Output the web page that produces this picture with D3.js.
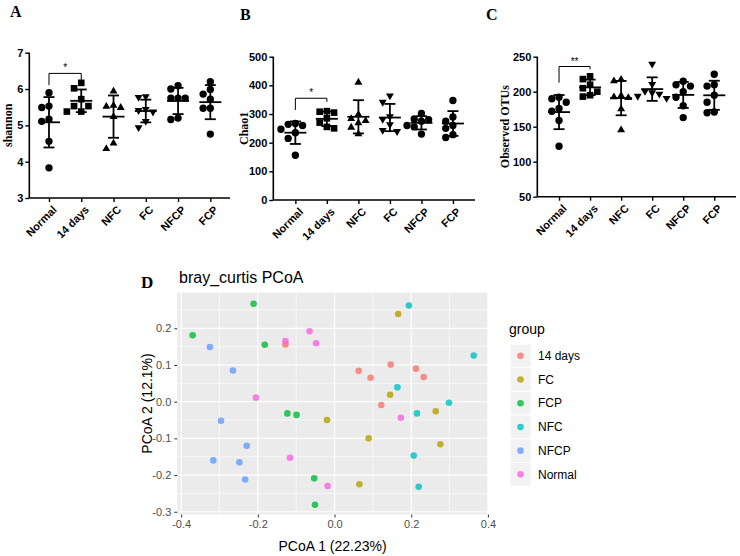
<!DOCTYPE html>
<html><head><meta charset="utf-8">
<script src="https://cdn.jsdelivr.net/npm/d3@7"></script>
<style>body{margin:0;background:#fff}svg{display:block}</style>
</head><body><svg id="c" width="740" height="556"></svg>
<script>
// ---------- data ----------
const groups = ["Normal", "14 days", "NFC", "FC", "NFCP", "FCP"];
const shannon = [
  [5.90, 5.53, 5.49, 5.11, 5.17, 4.56, 3.83],
  [6.17, 6.02, 5.72, 5.53, 5.53, 5.38, 5.38],
  [5.95, 5.50, 5.56, 5.53, 5.25, 4.52, 4.37],
  [5.78, 5.76, 5.43, 5.40, 5.36, 5.10, 4.93],
  [6.00, 6.09, 5.75, 5.75, 5.75, 5.16, 5.20],
  [6.20, 5.99, 5.86, 5.72, 5.47, 5.47, 4.76]
];
const chao1 = [
  [260, 267, 264, 247, 235, 215, 156],
  [310, 308, 305, 285, 270, 255, 250],
  [412, 300, 285, 278, 270, 255, 232],
  [362, 340, 290, 280, 262, 242, 238],
  [302, 283, 280, 275, 260, 255, 230],
  [347, 290, 275, 260, 250, 228, 218]
];
const otus = [
  [192, 190, 185, 176, 172, 159, 122],
  [222, 218, 210, 205, 200, 195, 193],
  [218, 216, 195, 193, 192, 176, 146],
  [239, 210, 200, 198, 196, 193, 190],
  [215, 210, 208, 200, 192, 180, 163],
  [225, 210, 208, 195, 185, 171, 170]
];
const ticksA = [3, 4, 5, 6, 7];
const ticksB = [0, 100, 200, 300, 400, 500];
const ticksC = [50, 100, 150, 200, 250];

const pcoaGroups = ["14 days", "FC", "FCP", "NFC", "NFCP", "Normal"];
const pcoaColors = ["#F8766D", "#B79F00", "#00BA38", "#00BFC4", "#619CFF", "#F564E3"];
const pcGroup = [
  "14 days","14 days","14 days","14 days","14 days","14 days","14 days",
  "FC","FC","FC","FC","FC","FC","FC",
  "FCP","FCP","FCP","FCP","FCP","FCP","FCP",
  "NFC","NFC","NFC","NFC","NFC","NFC","NFC",
  "NFCP","NFCP","NFCP","NFCP","NFCP","NFCP","NFCP",
  "Normal","Normal","Normal","Normal","Normal","Normal","Normal"
];
const pc1 = [
  -0.128, 0.063, 0.094, 0.1465, 0.2125, 0.2325, 0.122,
  0.166, 0.145, 0.264, -0.0196, 0.089, 0.276, 0.065,
  -0.370, -0.211, -0.182, -0.123, -0.099, -0.053, -0.051,
  0.194, 0.363, 0.164, 0.2985, 0.215, 0.2065, 0.2195,
  -0.325, -0.265, -0.296, -0.229, -0.316, -0.248, -0.233,
  -0.128, -0.065, -0.048, -0.205, -0.116, -0.018, 0.173
];
const pc2 = [
  0.156, 0.084, 0.065, 0.101, 0.090, 0.067, -0.009,
  0.239, 0.019, -0.026, -0.050, -0.100, -0.116, -0.225,
  0.181, 0.267, 0.155, -0.032, -0.036, -0.209, -0.281,
  0.262, 0.126, 0.039, -0.003, -0.032, -0.147, -0.232,
  0.149, 0.085, -0.052, -0.120, -0.160, -0.165, -0.212,
  0.165, 0.192, 0.159, 0.011, -0.153, -0.230, -0.044
];
const pcXTicks = [-0.4, -0.2, 0.0, 0.2, 0.4];
const pcYTicks = [-0.3, -0.2, -0.1, 0.0, 0.1, 0.2];

// ---------- drawing ----------
const svg = d3.select("#c");
svg.append("rect").attr("width", 740).attr("height", 556).attr("fill", "#fff");
const SANS = "'Liberation Sans', Arial, sans-serif";
const SERIF = "'Liberation Serif', 'Times New Roman', serif";
const markerShapes = ["circle", "square", "up", "down", "circle", "circle"];

function markerPath(shape, s) {
  if (shape === "circle") return d3.symbol(d3.symbolCircle, s * s * 0.82)();
  if (shape === "square") return d3.symbol(d3.symbolSquare, s * s * 0.85)();
  const h = s * 0.95, w = s * 0.55;
  if (shape === "up") return `M0,${-h*0.6}L${w},${h*0.4}L${-w},${h*0.4}Z`;
  return `M0,${h*0.6}L${w},${-h*0.4}L${-w},${-h*0.4}Z`;
}

function beeswarm(vals, y, s) {
  const order = vals.map((v, i) => i).sort((a, b) => vals[b] - vals[a]);
  const placed = [];
  const off = new Array(vals.length).fill(0);
  const cands = [0, -s, s, -2 * s, 2 * s, -3 * s, 3 * s];
  order.forEach(i => {
    const py = y(vals[i]);
    for (const c of cands) {
      const ok = placed.every(p => Math.hypot(p.x - c, p.y - py) >= s * 0.98);
      if (ok) { off[i] = c; placed.push({x: c, y: py}); break; }
    }
  });
  return off;
}

function dotPanel(cfg) {
  const g = svg.append("g");
  const x = d3.scalePoint().domain(groups).range(cfg.xRange).padding(cfg.pad);
  const y = d3.scaleLinear().domain(cfg.yDomain).range(cfg.yRange);
  const x0 = cfg.xRange[0], y0 = cfg.yRange[0];

  const ya = g.append("g").attr("transform", `translate(${x0},0)`)
    .call(d3.axisLeft(y).tickValues(cfg.ticks).tickSize(4).tickPadding(2).tickFormat(d3.format("d")));
  const xa = g.append("g").attr("transform", `translate(0,${y0})`)
    .call(d3.axisBottom(x).tickSize(4).tickFormat(""));
  [ya, xa].forEach(a => {
    a.select(".domain").attr("stroke", "#000").attr("stroke-width", 1.6);
    a.selectAll(".tick line").attr("stroke", "#000").attr("stroke-width", 1.4);
    a.selectAll("text").attr("font-family", SANS).attr("font-weight", "bold")
      .attr("font-size", 11).attr("fill", "#000");
  });
  xa.select(".domain").attr("d", `M${x0},0H${cfg.xRange[1]}`);
  ya.select(".domain").attr("d", `M0,${cfg.yRange[1]}V${y0}`);
  g.selectAll(".xl").data(groups).enter().append("text")
    .attr("transform", d => `translate(${x(d) + 3},${y0 + 7}) rotate(-45)`)
    .attr("text-anchor", "end").attr("dy", "0.7em")
    .attr("font-family", SANS).attr("font-weight", "bold").attr("font-size", 11)
    .text(d => d);

  g.append("text").attr("transform", `translate(${cfg.ylabelX},${(cfg.yRange[0] + cfg.yRange[1]) / 2}) rotate(-90)`)
    .attr("text-anchor", "middle").attr("font-family", SERIF).attr("font-weight", "bold")
    .attr("font-size", 12).text(cfg.ylabel);
  g.append("text").attr("x", cfg.letterX).attr("y", cfg.letterY).attr("font-family", SERIF)
    .attr("font-weight", "bold").attr("font-size", 16).text(cfg.letter);

  const s = 7.2;
  cfg.values.forEach((vals, gi) => {
    const off = beeswarm(vals, y, s);
    vals.forEach((v, i) => {
      g.append("path").attr("d", markerPath(markerShapes[gi], s))
        .attr("transform", `translate(${x(groups[gi]) + off[i]},${y(v)})`)
        .attr("fill", "#000");
    });
    const m = d3.mean(vals), sd = d3.deviation(vals);
    const cx = x(groups[gi]);
    const eb = g.append("g").attr("stroke", "#000").attr("stroke-width", 1.8).attr("fill", "none");
    eb.append("line").attr("x1", cx).attr("x2", cx).attr("y1", y(m - sd)).attr("y2", y(m + sd));
    eb.append("line").attr("x1", cx - 11).attr("x2", cx + 11).attr("y1", y(m)).attr("y2", y(m));
    [m - sd, m + sd].forEach(v => eb.append("line").attr("x1", cx - 5.5).attr("x2", cx + 5.5).attr("y1", y(v)).attr("y2", y(v)));
  });

  const b = cfg.bracket;
  const xl = x(groups[0]), xr = x(groups[1]);
  g.append("path").attr("d", `M${xl},${y(b.left)}V${y(b.top)}H${xr}V${y(b.right)}`)
    .attr("fill", "none").attr("stroke", "#000").attr("stroke-width", 1);
  g.append("text").attr("x", (xl + xr) / 2).attr("y", y(b.top) - 2).attr("text-anchor", "middle")
    .attr("font-family", SANS).attr("font-size", 10).text(b.star);
}

dotPanel({letter: "A", letterX: 10, letterY: 17, values: shannon, yDomain: [3, 7], ticks: ticksA,
  xRange: [29.3, 230], yRange: [198, 52.7], pad: 0.61, ylabel: "shannon", ylabelX: 12,
  bracket: {top: 6.43, left: 6.11, right: 6.25, star: "*"}});
dotPanel({letter: "B", letterX: 240, letterY: 20, values: chao1, yDomain: [0, 500], ticks: ticksB,
  xRange: [273.3, 475], yRange: [200, 56.7], pad: 0.7, ylabel: "Chao1", ylabelX: 248,
  bracket: {top: 355, left: 314, right: 343, star: "*"}});
dotPanel({letter: "C", letterX: 486, letterY: 20, values: otus, yDomain: [50, 250], ticks: ticksC,
  xRange: [537.3, 736], yRange: [196.7, 56.7], pad: 0.7, ylabel: "Observed OTUs", ylabelX: 509,
  bracket: {top: 236, left: 213, right: 232, star: "**"}});

// ---------- PCoA panel ----------
(function () {
  const g = svg.append("g");
  const x = d3.scaleLinear().domain([-0.41, 0.40]).range([177.3, 487.9]);
  const y = d3.scaleLinear().domain([-0.3075, 0.2975]).range([514.5, 292.5]);
  const color = d3.scaleOrdinal().domain(pcoaGroups).range(pcoaColors);
  const [xa, xb] = x.range(), [yb, yt] = y.range();
  g.append("rect").attr("x", xa).attr("y", yt).attr("width", xb - xa).attr("height", yb - yt).attr("fill", "#EBEBEB");
  const xMinor = pcXTicks.slice(1).map((t, i) => (t + pcXTicks[i]) / 2);
  const yMinor = pcYTicks.slice(1).map((t, i) => (t + pcYTicks[i]) / 2).concat([0.25]);
  xMinor.forEach(t => g.append("line").attr("x1", x(t)).attr("x2", x(t)).attr("y1", yt).attr("y2", yb).attr("stroke", "#fff").attr("stroke-width", 0.6));
  yMinor.forEach(t => g.append("line").attr("y1", y(t)).attr("y2", y(t)).attr("x1", xa).attr("x2", xb).attr("stroke", "#fff").attr("stroke-width", 0.6));
  pcXTicks.forEach(t => g.append("line").attr("x1", x(t)).attr("x2", x(t)).attr("y1", yt).attr("y2", yb).attr("stroke", "#fff").attr("stroke-width", 1.2));
  pcYTicks.forEach(t => g.append("line").attr("y1", y(t)).attr("y2", y(t)).attr("x1", xa).attr("x2", xb).attr("stroke", "#fff").attr("stroke-width", 1.2));

  const fmt = d => d3.format(".1f")(d).replace("\u2212", "-");
  const ax = g.append("g").attr("transform", `translate(0,${yb})`)
    .call(d3.axisBottom(x).tickValues(pcXTicks).tickSize(3).tickPadding(3).tickFormat(fmt));
  const ay = g.append("g").attr("transform", `translate(${xa},0)`)
    .call(d3.axisLeft(y).tickValues(pcYTicks).tickSize(3).tickPadding(3).tickFormat(fmt));
  [ax, ay].forEach(a => {
    a.select(".domain").remove();
    a.selectAll(".tick line").attr("stroke", "#333");
    a.selectAll("text").attr("font-family", SANS).attr("font-size", 11).attr("fill", "#4D4D4D");
  });

  pc1.forEach((v, i) => {
    g.append("circle").attr("cx", x(v)).attr("cy", y(pc2[i])).attr("r", 3.3)
      .attr("fill", color(pcGroup[i])).attr("fill-opacity", 0.8);
  });

  g.append("text").attr("x", 179).attr("y", 283).attr("font-family", SANS).attr("font-size", 16).text("bray_curtis PCoA");
  g.append("text").attr("x", 141).attr("y", 288).attr("font-family", SERIF).attr("font-weight", "bold").attr("font-size", 17).text("D");
  g.append("text").attr("x", (xa + xb) / 2).attr("y", 551).attr("text-anchor", "middle")
    .attr("font-family", SANS).attr("font-size", 14).text("PCoA 1 (22.23%)");
  g.append("text").attr("transform", `translate(152,${(yt + yb) / 2}) rotate(-90)`).attr("text-anchor", "middle")
    .attr("font-family", SANS).attr("font-size", 14).text("PCoA 2 (12.1%)");

  const lg = g.append("g");
  lg.append("text").attr("x", 509).attr("y", 334).attr("font-family", SANS).attr("font-size", 14).text("group");
  pcoaGroups.forEach((d, i) => {
    const ky = 344 + i * 23.7;
    lg.append("rect").attr("x", 510).attr("y", ky).attr("width", 21).attr("height", 23.7)
      .attr("fill", "#F2F2F2").attr("stroke", "#fff").attr("stroke-width", 1);
    lg.append("circle").attr("cx", 520.5).attr("cy", ky + 11.85).attr("r", 3.3)
      .attr("fill", color(d)).attr("fill-opacity", 0.8);
    lg.append("text").attr("x", 538).attr("y", ky + 11.85).attr("dy", "0.35em")
      .attr("font-family", SANS).attr("font-size", 12).text(d);
  });
})();
</script></body></html>
